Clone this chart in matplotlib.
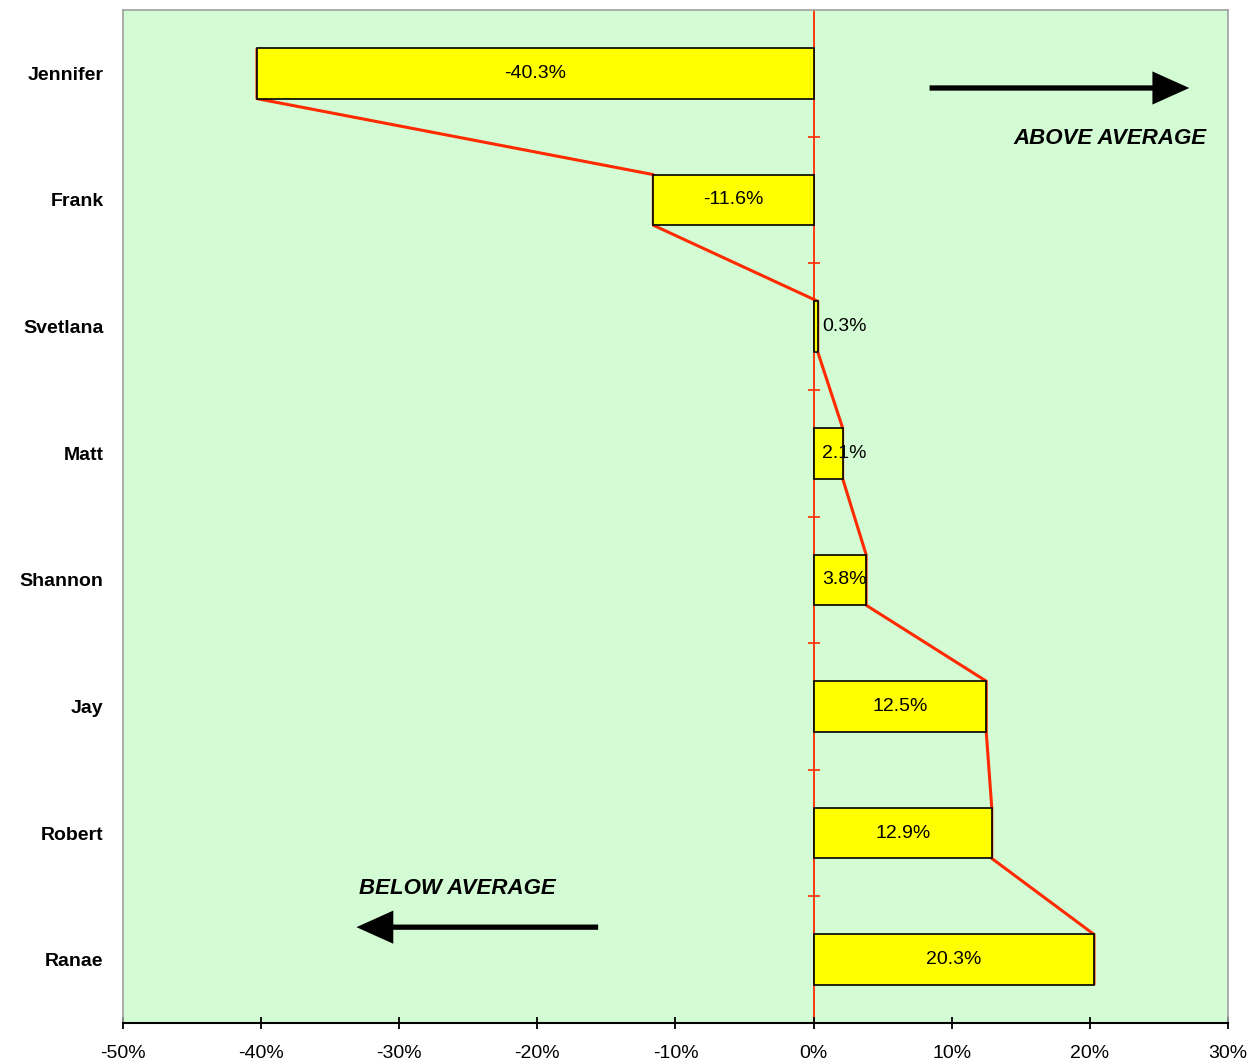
import numpy as np
import matplotlib.pyplot as plt
from matplotlib.ticker import FuncFormatter

plt.rcParams['font.family'] = ['Liberation Sans', 'DejaVu Sans']

names = ["Jennifer", "Frank", "Svetlana", "Matt", "Shannon", "Jay", "Robert", "Ranae"]
pct = [-40.3, -11.6, 0.3, 2.1, 3.8, 12.5, 12.9, 20.3]

vals = np.array(pct) / 100
pos = np.arange(len(names))
bar_h = 0.40
red = "#ff2a00"

fig = plt.figure(figsize=(12.58, 10.63), dpi=100)
ax = fig.add_axes([0.0978, 0.0376, 0.8783, 0.953])
ax.set_facecolor("#d4fcd4")

# zig-zag line through the bar ends (bottom of one bar to top of the next)
lx, ly = [], []
for v, p in zip(vals, pos):
    lx += [v, v]
    ly += [p - bar_h / 2, p + bar_h / 2]
ax.plot(lx, ly, color=red, lw=2.2, zorder=2, solid_capstyle="butt")

ax.axvline(0, color=red, lw=1.3, zorder=1)
ax.plot(np.zeros(len(names) - 1), pos[:-1] + 0.5, ls="none", marker="_",
        color=red, ms=8, mew=1.2, zorder=1)

ax.barh(pos, vals, height=bar_h, color="#ffff00", edgecolor="black",
        lw=1.2, zorder=3)

for v, p in zip(vals, pos):
    label = f"{v * 100:.1f}%"
    if abs(v) < 0.05:
        ax.text(0.006, p, label, ha="left", va="center", fontsize=14, zorder=4)
    else:
        ax.text(v / 2, p, label, ha="center", va="center", fontsize=14, zorder=4)

ax.set_xlim(-0.5, 0.3)
ax.set_ylim(len(names) - 0.5, -0.5)
ax.set_xticks(np.arange(-0.5, 0.31, 0.1))
ax.xaxis.set_major_formatter(FuncFormatter(lambda x, _: f"{round(x * 100):d}%"))
ax.tick_params(axis="x", direction="inout", length=9, width=1.3, labelsize=14, pad=11)

ax.set_yticks(pos)
ax.set_yticklabels(names, fontweight="bold", fontsize=14)
ax.tick_params(axis="y", length=0, pad=14)

for side in ["left", "top", "right"]:
    ax.spines[side].set_color("#a0a0a0")
    ax.spines[side].set_linewidth(1.2)
ax.spines["bottom"].set_color("black")
ax.spines["bottom"].set_linewidth(1.5)

arrow = dict(arrowstyle="-|>,head_length=1.0,head_width=0.45", lw=3.8,
             color="black", mutation_scale=20, shrinkA=0, shrinkB=0,
             joinstyle="miter", capstyle="butt")
ax.annotate("", xy=(0.272, 0.116), xytext=(0.084, 0.116), arrowprops=arrow)
ax.annotate("", xy=(-0.331, 6.743), xytext=(-0.156, 6.743), arrowprops=arrow)

ax.text(0.2145, 0.511, "ABOVE AVERAGE", ha="center", va="center",
        fontsize=16, fontweight="bold", fontstyle="italic")
ax.text(-0.258, 6.435, "BELOW AVERAGE", ha="center", va="center",
        fontsize=16, fontweight="bold", fontstyle="italic")

fig.savefig("out.png", dpi=100)
